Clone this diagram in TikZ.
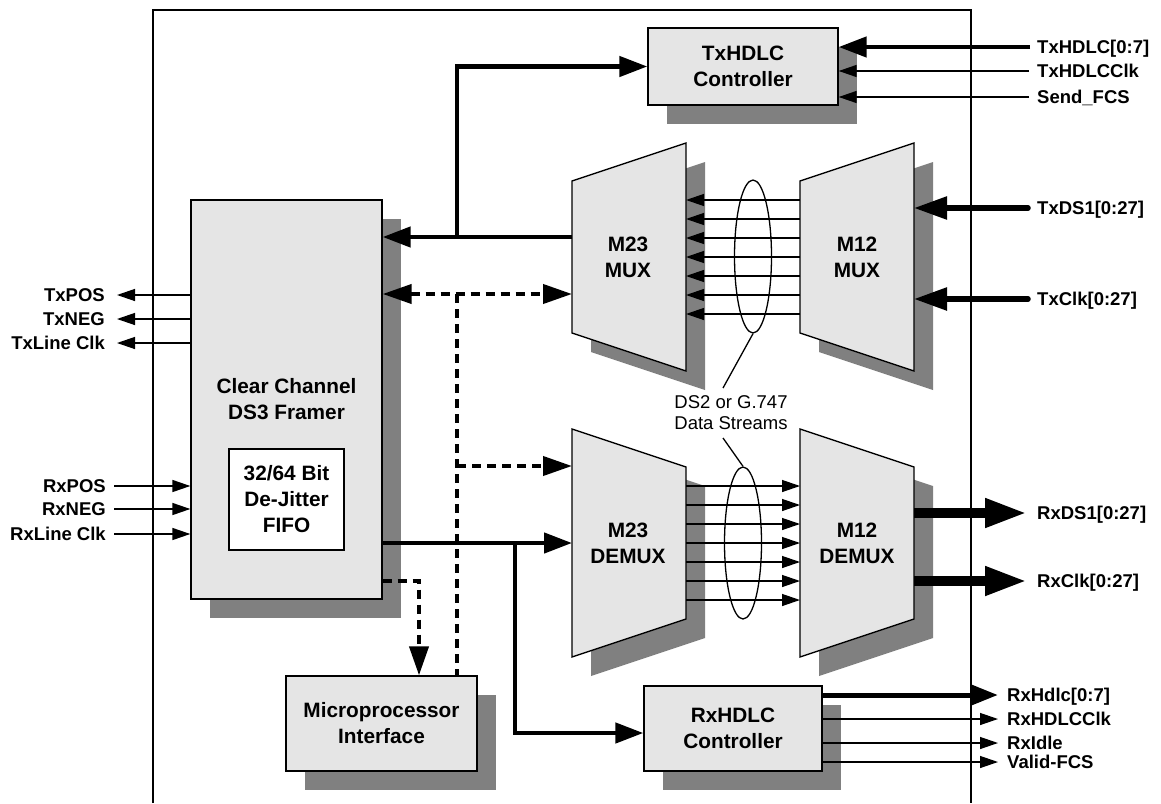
\documentclass[tikz,border=0pt]{standalone}
\usepackage{fontspec}
\setmainfont{Liberation Sans}
\usetikzlibrary{arrows.meta,shadows,shapes.geometric}
\begin{document}
\begin{tikzpicture}[x=1pt,y=-1pt,
  boxfont/.style={font=\fontsize{20.8}{26}\selectfont\bfseries},
  blk/.style={draw, line width=1.3pt, fill=black!10, align=center, inner sep=0pt, boxfont,
    drop shadow={shadow xshift=19pt, shadow yshift=-19pt, fill=black!50, opacity=1}},
  whitebox/.style={draw, line width=1.3pt, fill=white, align=center, inner sep=0pt, boxfont},
  trap/.style={draw, line width=1.3pt, fill=black!10, line join=miter},
  trapshadow/.style={fill=black!50},
  txt/.style={align=center, inner sep=0pt, boxfont},
  lbl/.style={font=\fontsize{18.5}{22}\selectfont\bfseries, inner sep=0pt, text height=13.2pt, text depth=0pt},
  sig/.style={line width=1.3pt, -{Triangle[length=18pt,width=12pt]}},
  hbus/.style={line width=4.5pt, -{Triangle[length=28pt,width=20pt]}},
  hbusplain/.style={line width=4.5pt},
  inbus/.style={line width=5.5pt, line cap=round, -{Triangle[length=33pt,width=22pt]}},
  fatbus/.style={line width=10pt, -{Triangle[length=42pt,width=27pt]}},
  outbus/.style={line width=5pt, -{Triangle[length=26pt,width=19pt]}},
  dashln/.style={line width=4pt, dash pattern=on 9pt off 6pt},
  dasharr/.style={dashln, -{Triangle[length=29pt,width=19pt]}},
  dashbi/.style={dashln, {Triangle[length=29pt,width=19pt]}-{Triangle[length=29pt,width=19pt]}},
  leader/.style={line width=1.3pt},
  bundle/.style={draw, ellipse, line width=1.3pt, inner sep=0pt}
]
\useasboundingbox (0,0) rectangle (1161,803);

% outer frame
\draw[line width=1.3pt] (153,803) -- (153,10) -- (971,10) -- (971,803);

% rectangular blocks
\node[blk, minimum width=190pt, minimum height=77pt] (txhdlc) at (743,66.5) {TxHDLC\\Controller};
\node[blk, minimum width=191pt, minimum height=399pt] (framer) at (286.5,399.5) {Clear Channel\\DS3 Framer};
\node[whitebox, minimum width=115pt, minimum height=101pt] (fifo) at (286.5,499.5) {32/64 Bit\\De-Jitter\\FIFO};
\node[blk, minimum width=191pt, minimum height=95pt] (micro) at (381.5,723.5) {Microprocessor\\Interface};
\node[blk, minimum width=178pt, minimum height=85pt] (rxhdlc) at (733,728.5) {RxHDLC\\Controller};

% trapezoid blocks
\fill[trapshadow] (591,200) -- (705,162) -- (705,390) -- (591,352) -- cycle;
\draw[trap] (572,181) -- (686,143) -- (686,371) -- (572,333) -- cycle;
\fill[trapshadow] (819,200) -- (933,162) -- (933,390) -- (819,352) -- cycle;
\draw[trap] (800,181) -- (914,143) -- (914,371) -- (800,333) -- cycle;
\fill[trapshadow] (591,448) -- (705,486) -- (705,638) -- (591,676) -- cycle;
\draw[trap] (572,429) -- (686,467) -- (686,619) -- (572,657) -- cycle;
\fill[trapshadow] (819,448) -- (933,486) -- (933,638) -- (819,676) -- cycle;
\draw[trap] (800,429) -- (914,467) -- (914,619) -- (800,657) -- cycle;

\node[txt] (m23mux) at (628,257.5) {M23\\MUX};
\node[txt] (m12mux) at (857,257.5) {M12\\MUX};
\node[txt] (m23dmx) at (628,543) {M23\\DEMUX};
\node[txt] (m12dmx) at (857,543) {M12\\DEMUX};

\coordinate (m23mux-w) at (572,0);
\coordinate (m23mux-e) at (686,0);
\coordinate (m12mux-w) at (800,0);
\coordinate (m12mux-e) at (914,0);
\coordinate (m23dmx-w) at (572,0);
\coordinate (m23dmx-e) at (686,0);
\coordinate (m12dmx-w) at (800,0);
\coordinate (m12dmx-e) at (914,0);

% streams between muxes
\foreach \yy in {200,219,238,257,276,295,314}
  \draw[sig] ([yshift=-\yy pt]m12mux-w) -- ([yshift=-\yy pt]m23mux-e);
\foreach \yy in {486,505,524,543,562,581,600}
  \draw[sig] ([yshift=-\yy pt]m23dmx-e) -- ([yshift=-\yy pt]m12dmx-w);

\node[bundle, minimum width=37pt, minimum height=153pt] (e1) at (753,256.5) {};
\node[bundle, minimum width=37pt, minimum height=152pt] (e2) at (743,543) {};
\node[align=center, inner sep=0pt, font=\fontsize{18.5}{21}\selectfont] (ds2) at (731,412.5) {DS2 or G.747\\Data Streams};
\coordinate (ld1) at (723,388);
\coordinate (ld2) at (723,438);
\draw[leader] (e1.south) -- (ld1);
\draw[leader] (ld2) -- (e2.north);

% right side: TxHDLC inputs
\node[lbl, anchor=west] (ltxh) at (1037,47) {TxHDLC[0:7]};
\node[lbl, anchor=west] (ltxhc) at (1037,71) {TxHDLCClk};
\node[lbl, anchor=west] (lsfcs) at (1037,97) {Send\_FCS};
\draw[hbus] ([xshift=-7pt]ltxh.west) -- (txhdlc.east |- ltxh.west);
\draw[sig] ([xshift=-8pt]ltxhc.west) -- (txhdlc.east |- ltxhc.west);
\draw[sig] ([xshift=-8pt]lsfcs.west) -- (txhdlc.east |- lsfcs.west);

% right side: M12 MUX inputs
\node[lbl, anchor=west] (ltxds) at (1037,208) {TxDS1[0:27]};
\node[lbl, anchor=west] (ltxclk) at (1037,299) {TxClk[0:27]};
\draw[inbus] ([xshift=-9pt]ltxds.west) -- (m12mux-e |- ltxds.west);
\draw[inbus] ([xshift=-9pt]ltxclk.west) -- (m12mux-e |- ltxclk.west);

% right side: M12 DEMUX outputs
\node[lbl, anchor=west] (lrxds) at (1037,513) {RxDS1[0:27]};
\node[lbl, anchor=west] (lrxclk) at (1037,581) {RxClk[0:27]};
\draw[fatbus] (m12dmx-e |- lrxds.west) -- ([xshift=-10pt]lrxds.west);
\draw[fatbus] (m12dmx-e |- lrxclk.west) -- ([xshift=-10pt]lrxclk.west);

% right side: RxHDLC outputs
\node[lbl, anchor=west] (lrxh) at (1007,695) {RxHdlc[0:7]};
\node[lbl, anchor=west] (lrxhc) at (1007,719) {RxHDLCClk};
\node[lbl, anchor=west] (lrxi) at (1007,743) {RxIdle};
\node[lbl, anchor=west] (lvfcs) at (1007,762) {Valid-FCS};
\draw[outbus] (rxhdlc.east |- lrxh.west) -- ([xshift=-9pt]lrxh.west);
\draw[sig] (rxhdlc.east |- lrxhc.west) -- ([xshift=-9pt]lrxhc.west);
\draw[sig] (rxhdlc.east |- lrxi.west) -- ([xshift=-9pt]lrxi.west);
\draw[sig] (rxhdlc.east |- lvfcs.west) -- ([xshift=-9pt]lvfcs.west);

% left side: line signals
\node[lbl, anchor=east] (ltxpos) at (105,295) {TxPOS};
\node[lbl, anchor=east] (ltxneg) at (105,319) {TxNEG};
\node[lbl, anchor=east] (ltxlc) at (105,343) {TxLine Clk};
\draw[sig] (framer.west |- ltxpos.east) -- ([xshift=12pt]ltxpos.east);
\draw[sig] (framer.west |- ltxneg.east) -- ([xshift=12pt]ltxneg.east);
\draw[sig] (framer.west |- ltxlc.east) -- ([xshift=12pt]ltxlc.east);
\node[lbl, anchor=east] (lrxpos) at (106,486) {RxPOS};
\node[lbl, anchor=east] (lrxneg) at (106,509) {RxNEG};
\node[lbl, anchor=east] (lrxlc) at (106,534) {RxLine Clk};
\draw[sig] ([xshift=8pt]lrxpos.east) -- (framer.west |- lrxpos.east);
\draw[sig] ([xshift=8pt]lrxneg.east) -- (framer.west |- lrxneg.east);
\draw[sig] ([xshift=8pt]lrxlc.east) -- (framer.west |- lrxlc.east);

% framer <-> M23 MUX / TxHDLC
\coordinate (j1) at (457,237);
\draw[hbus] (m23mux-w |- j1) -- (framer.east |- j1);
\draw[hbus] (j1) -- (j1 |- txhdlc.west) -- (txhdlc.west);

% microprocessor bus (dashed)
\coordinate (d1) at (457,294);
\coordinate (d2) at (457,466);
\coordinate (d3) at (419,581);
\draw[dashbi] (framer.east |- d1) -- (m23mux-w |- d1);
\draw[dashln] (d1) -- (d1 |- micro.north);
\draw[dasharr] (d2) -- (m23dmx-w |- d2);
\draw[dasharr] (framer.east |- d3) -- (d3) -- (d3 |- micro.north);

% framer -> M23 DEMUX / RxHDLC
\coordinate (j2) at (515,543);
\coordinate (j3) at (515,733);
\draw[hbus] (framer.east |- j2) -- (m23dmx-w |- j2);
\draw[hbus] (j2) -- (j3) -- (rxhdlc.west |- j3);
\end{tikzpicture}
\end{document}
